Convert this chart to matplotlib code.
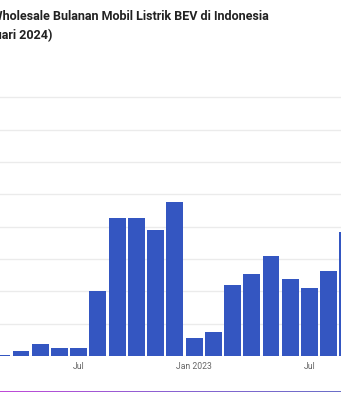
import matplotlib.pyplot as plt
import numpy as np
from matplotlib.colors import LinearSegmentedColormap

plt.rcParams['font.family'] = ['Roboto', 'DejaVu Sans']

# monthly BEV wholesales, Mar 2022 .. Sep 2023 (the chart is cropped on the right)
months = ["Mar 2022", "Apr 2022", "May 2022", "Jun 2022", "Jul 2022", "Aug 2022",
          "Sep 2022", "Oct 2022", "Nov 2022", "Dec 2022", "Jan 2023", "Feb 2023",
          "Mar 2023", "Apr 2023", "May 2023", "Jun 2023", "Jul 2023", "Aug 2023",
          "Sep 2023"]
units = [12, 82, 190, 119, 119, 1005, 2129, 2129, 1943, 2376, 283, 376,
         1093, 1263, 1541, 1190, 1056, 1314, 1917]
tick_months = ["Jul 2022", "Jan 2023", "Jul 2023"]
tick_labels = ["Jul", "Jan 2023", "Jul"]
grid_vals = list(range(0, 4001, 500))

W, H = 341, 400
fig = plt.figure(figsize=(W / 100, H / 100), dpi=100)

# axes runs off the left/right edges like the cropped screenshot
ax = fig.add_axes([0, 44 / H, 1, 275 / H])
x = np.arange(len(months))
ax.bar(x, units, width=0.88, color="#3456c1", zorder=3)
ax.set_xlim(-0.092, 17.64)
ax.set_ylim(0, 4250)
ax.set_yticks(grid_vals)
ax.yaxis.grid(True, color="#ebebeb", linewidth=1.0, zorder=0)
ax.tick_params(axis="y", length=0, labelleft=False)
ax.set_xticks([months.index(m) for m in tick_months])
ax.set_xticklabels(tick_labels, color="#666666", fontsize=6.2)
ax.tick_params(axis="x", length=0, pad=4)
for s in ax.spines.values():
    s.set_visible(False)

# title (left part cut off in the reference)
fig.text(269 / W, 1 - 20 / H, "Data Wholesale Bulanan Mobil Listrik BEV di Indonesia",
         ha="right", va="baseline", fontsize=9, fontweight="bold", color="#222222")
fig.text(52 / W, 1 - 39 / H, "(Maret 2022 - Januari 2024)",
         ha="right", va="baseline", fontsize=9, fontweight="bold", color="#222222")

# gradient rule at the bottom
lax = fig.add_axes([0, 1 - 392.5 / H, 1, 1.5 / H])
grad = np.linspace(0, 1, 256).reshape(1, -1)
cmap = LinearSegmentedColormap.from_list("rule", ["#c04ad8", "#8a62d2", "#6b6fc8"])
lax.imshow(grad, aspect="auto", cmap=cmap)
lax.axis("off")

fig.savefig("out.png", dpi=100)
